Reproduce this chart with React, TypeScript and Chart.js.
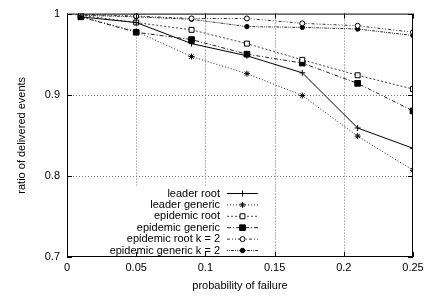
import React, { useEffect, useRef } from "react";
import { Chart, registerables } from "chart.js";

Chart.register(...registerables);

const failureProb = [0.01, 0.05, 0.09, 0.13, 0.17, 0.21, 0.25];
const leaderRoot = [0.996, 0.989, 0.963, 0.948, 0.927, 0.859, 0.834];
const leaderGeneric = [0.996, 0.978, 0.947, 0.926, 0.899, 0.849, 0.807];
const epidemicRoot = [0.998, 0.989, 0.98, 0.963, 0.943, 0.924, 0.907];
const epidemicGeneric = [0.996, 0.977, 0.968, 0.95, 0.939, 0.914, 0.88];
const epidemicRootK2 = [0.999, 0.997, 0.994, 0.994, 0.988, 0.985, 0.977];
const epidemicGenericK2 = [0.998, 0.996, 0.993, 0.984, 0.983, 0.981, 0.973];

const xTicks = [0, 0.05, 0.1, 0.15, 0.2, 0.25];
const yTicks = [0.7, 0.8, 0.9, 1];

const FONT = "'Liberation Sans', Arial, Helvetica, sans-serif";

type SeriesDef = {
  label: string;
  values: number[];
  dash: number[];
  color: string;
  pointStyle: string;
  radius: number;
  fill: string;
};

const series: SeriesDef[] = [
  { label: "leader root", values: leaderRoot, dash: [], color: "#000", pointStyle: "cross", radius: 3, fill: "#000" },
  { label: "leader generic", values: leaderGeneric, dash: [1, 2], color: "#222", pointStyle: "star", radius: 3, fill: "#000" },
  { label: "epidemic root", values: epidemicRoot, dash: [2, 2], color: "#444", pointStyle: "rect", radius: 3.5, fill: "#fff" },
  { label: "epidemic generic", values: epidemicGeneric, dash: [4, 2, 1, 2], color: "#222", pointStyle: "rect", radius: 4, fill: "#000" },
  { label: "epidemic root k = 2", values: epidemicRootK2, dash: [3, 2, 1, 2, 1, 2], color: "#333", pointStyle: "circle", radius: 2.5, fill: "#fff" },
  { label: "epidemic generic k = 2", values: epidemicGenericK2, dash: [1, 1, 1, 1, 3, 1], color: "#333", pointStyle: "circle", radius: 2.2, fill: "#000" },
];

const fmt = (v: number) => String(Number(v.toFixed(2)));

function drawMarker(ctx: CanvasRenderingContext2D, style: string, r: number, x: number, y: number) {
  ctx.beginPath();
  if (style === "cross") {
    ctx.moveTo(x - r, y);
    ctx.lineTo(x + r, y);
    ctx.moveTo(x, y - r);
    ctx.lineTo(x, y + r);
    ctx.stroke();
  } else if (style === "star") {
    ctx.moveTo(x - r, y);
    ctx.lineTo(x + r, y);
    ctx.moveTo(x, y - r);
    ctx.lineTo(x, y + r);
    const d = r * Math.SQRT1_2;
    ctx.moveTo(x - d, y - d);
    ctx.lineTo(x + d, y + d);
    ctx.moveTo(x - d, y + d);
    ctx.lineTo(x + d, y - d);
    ctx.stroke();
  } else if (style === "rect") {
    const s = r * Math.SQRT1_2;
    ctx.rect(x - s, y - s, 2 * s, 2 * s);
    ctx.fill();
    ctx.stroke();
  } else {
    ctx.arc(x, y, r, 0, Math.PI * 2);
    ctx.fill();
    ctx.stroke();
  }
}

const gridPlugin = {
  id: "dottedGrid",
  beforeDatasetsDraw(chart: any) {
    const { ctx, chartArea } = chart;
    const { left, right, top, bottom } = chartArea;
    const xs = chart.scales.x;
    const ys = chart.scales.y;
    ctx.save();
    ctx.strokeStyle = "#777";
    ctx.lineWidth = 1;
    ctx.setLineDash([1, 2]);
    ctx.beginPath();
    xTicks.slice(1, -1).forEach((t) => {
      const px = Math.round(xs.getPixelForValue(t)) + 0.5;
      ctx.moveTo(px, top);
      ctx.lineTo(px, bottom);
    });
    yTicks.slice(1, -1).forEach((t) => {
      const py = Math.round(ys.getPixelForValue(t)) + 0.5;
      ctx.moveTo(left, py);
      ctx.lineTo(right, py);
    });
    ctx.stroke();
    ctx.restore();
  },
};

const framePlugin = {
  id: "frame",
  afterDatasetsDraw(chart: any) {
    const { ctx, chartArea } = chart;
    const { left, right, top, bottom } = chartArea;
    ctx.save();
    // legend background
    ctx.fillStyle = "#fff";
    ctx.fillRect(96, 186, 166, bottom - 187);
    // legend entries
    ctx.font = `11px ${FONT}`;
    ctx.textAlign = "right";
    ctx.textBaseline = "middle";
    series.forEach((s, i) => {
      const y = 193.5 + i * 11.4;
      ctx.fillStyle = "#000";
      ctx.fillText(s.label, 220, y);
      ctx.save();
      ctx.strokeStyle = s.color;
      ctx.lineWidth = 1;
      ctx.setLineDash(s.dash);
      ctx.beginPath();
      ctx.moveTo(227, y);
      ctx.lineTo(258, y);
      ctx.stroke();
      ctx.restore();
      ctx.save();
      ctx.strokeStyle = "#000";
      ctx.fillStyle = s.fill;
      ctx.lineWidth = 1;
      ctx.setLineDash([]);
      drawMarker(ctx, s.pointStyle, s.radius, 242.5, y);
      ctx.restore();
    });
    // border
    ctx.strokeStyle = "#000";
    ctx.lineWidth = 1;
    ctx.setLineDash([]);
    ctx.strokeRect(left + 0.5, top + 0.5, right - left - 1, bottom - top - 1);
    // ticks
    const xs = chart.scales.x;
    const ys = chart.scales.y;
    ctx.beginPath();
    xTicks.forEach((t) => {
      const px = Math.round(xs.getPixelForValue(t)) + 0.5;
      ctx.moveTo(px, bottom);
      ctx.lineTo(px, bottom - 5);
      ctx.moveTo(px, top);
      ctx.lineTo(px, top + 5);
    });
    yTicks.forEach((t) => {
      const py = Math.round(ys.getPixelForValue(t)) + 0.5;
      ctx.moveTo(left, py);
      ctx.lineTo(left + 5, py);
      ctx.moveTo(right, py);
      ctx.lineTo(right - 5, py);
    });
    ctx.stroke();
    ctx.restore();
  },
};

export default function App() {
  const ref = useRef<HTMLCanvasElement | null>(null);

  useEffect(() => {
    if (!ref.current) return;
    const chart = new Chart(ref.current, {
      type: "line",
      data: {
        datasets: series.map((s) => ({
          label: s.label,
          data: failureProb.map((x, i) => ({ x, y: s.values[i] })),
          borderColor: s.color,
          borderWidth: 1,
          borderDash: s.dash,
          pointStyle: s.pointStyle as any,
          pointRadius: s.radius,
          pointBorderColor: "#000",
          pointBackgroundColor: s.fill,
          pointBorderWidth: 1,
          fill: false,
          tension: 0,
        })),
      },
      options: {
        responsive: false,
        animation: false,
        layout: { padding: { left: 0, top: 8, right: 16, bottom: 0 } },
        plugins: {
          legend: { display: false },
          tooltip: { enabled: false },
        },
        scales: {
          x: {
            type: "linear",
            min: 0,
            max: 0.25,
            afterBuildTicks: (scale: any) => {
              scale.ticks = xTicks.map((v) => ({ value: v }));
            },
            afterFit: (scale: any) => {
              scale.height = 42;
            },
            ticks: {
              callback: (v: any) => fmt(Number(v)),
              color: "#000",
              padding: 4,
              maxRotation: 0,
              autoSkip: false,
              font: { family: FONT, size: 11 },
            },
            grid: { display: false, drawTicks: false },
            border: { display: false },
            title: {
              display: true,
              text: "probability of failure",
              color: "#000",
              font: { family: FONT, size: 11 },
              padding: { top: 0, bottom: 6 },
            },
          },
          y: {
            type: "linear",
            min: 0.7,
            max: 1,
            afterBuildTicks: (scale: any) => {
              scale.ticks = yTicks.map((v) => ({ value: v }));
            },
            afterFit: (scale: any) => {
              scale.width = 67;
            },
            ticks: {
              callback: (v: any) => fmt(Number(v)),
              color: "#000",
              padding: 7,
              autoSkip: false,
              font: { family: FONT, size: 11 },
            },
            grid: { display: false, drawTicks: false },
            border: { display: false },
            title: {
              display: true,
              text: "ratio of delivered events",
              color: "#000",
              font: { family: FONT, size: 11 },
              padding: { top: 15, bottom: 0 },
            },
          },
        },
      },
      plugins: [gridPlugin, framePlugin],
    });
    return () => chart.destroy();
  }, []);

  return (
    <div style={{ position: "fixed", left: 0, top: 0, width: 429, height: 299, background: "#fff" }}>
      <canvas ref={ref} width={429} height={299} style={{ display: "block" }} />
    </div>
  );
}
